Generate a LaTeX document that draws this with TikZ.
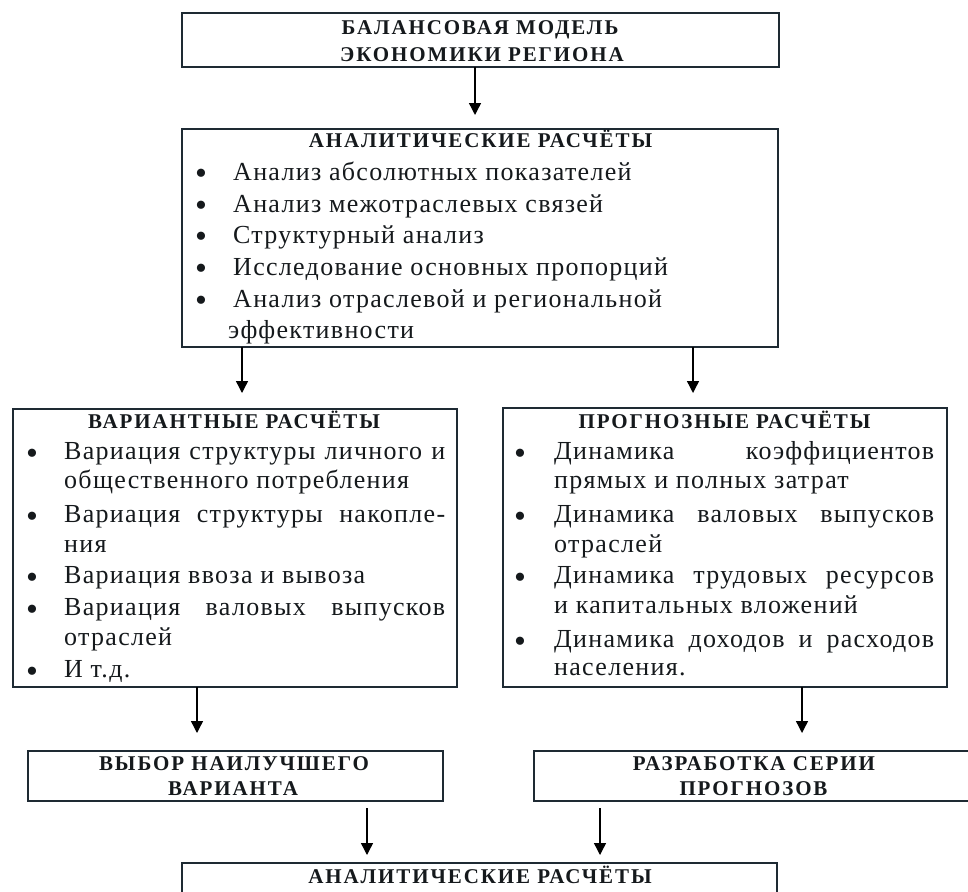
\documentclass[tikz,border=0pt]{standalone}
\usepackage{fontspec}
\setmainfont{Liberation Serif}
\newfontfamily\bodyf{Liberation Serif}[LetterSpace=5]
\newfontfamily\titf{Liberation Serif}[LetterSpace=9]
\usetikzlibrary{arrows.meta}
\definecolor{boxc}{HTML}{1E2A33}
\definecolor{txtc}{HTML}{15191C}
\tikzset{
  box/.style={draw=boxc, line width=1.5pt, inner sep=0pt, outer sep=0pt},
  arr/.style={draw=black, line width=1.4pt, -{Triangle[width=12pt,length=12pt]}},
  ln/.style={inner sep=0pt, anchor=base west, text=txtc, font=\bodyf\fontsize{26}{31}\selectfont},
  hd/.style={inner sep=0pt, anchor=base, text=txtc, font=\titf\bfseries\fontsize{21}{25}\selectfont},
  bul/.style={inner sep=0pt, anchor=center, yshift=-4.5pt, text=txtc, font=\fontsize{34}{38}\selectfont},
}
\newcommand{\jl}[2]{\makebox[#1][s]{#2}}
\begin{document}
\begin{tikzpicture}[x=1pt,y=-1pt]
\clip (0,0) rectangle (968,891);
\fill[white] (0,0) rectangle (968,891);
% boxes
\node[box, minimum width=597pt, minimum height=54pt] (top) at (480.5,40) {};
\node[box, minimum width=596pt, minimum height=218pt] (an) at (480,238) {};
\node[box, minimum width=444pt, minimum height=278pt] (var) at (235,548) {};
\node[box, minimum width=444pt, minimum height=279pt] (prog) at (725,547.5) {};
\node[box, minimum width=415pt, minimum height=50pt] (best) at (235.5,776) {};
\node[box, minimum width=441pt, minimum height=50pt] (ser) at (754.5,776) {};
\node[box, minimum width=595pt, minimum height=77pt] (fin) at (479.5,901.5) {};
% arrow x positions
\coordinate (a1) at (475,0);
\coordinate (a2) at (242,0);
\coordinate (a3) at (693,0);
\coordinate (a4) at (197,0);
\coordinate (a5) at (802,0);
\coordinate (a6) at (367,0);
\coordinate (a7) at (600,0);
\draw[arr, shorten >=14pt] (top.south -| a1) -- (an.north -| a1);
\draw[arr, shorten >=16pt] (an.south -| a2) -- (var.north -| a2);
\draw[arr, shorten >=15pt] (an.south -| a3) -- (prog.north -| a3);
\draw[arr, shorten >=18pt] (var.south -| a4) -- (best.north -| a4);
\draw[arr, shorten >=18pt] (prog.south -| a5) -- (ser.north -| a5);
\draw[arr, shorten <=7pt, shorten >=8pt] (best.south -| a6) -- (fin.north -| a6);
\draw[arr, shorten <=7pt, shorten >=8pt] (ser.south -| a7) -- (fin.north -| a7);
% top
\node[hd] (t1) at (480,35) {БАЛАНСОВАЯ МОДЕЛЬ};
\node[hd] (t2) at (482,61) {ЭКОНОМИКИ РЕГИОНА};
% analytic
\node[hd] (ah) at (480.5,147) {АНАЛИТИЧЕСКИЕ РАСЧЁТЫ};
\node[bul] (ab1) at (201,172) {•};
\node[bul] (ab2) at (201,204) {•};
\node[bul] (ab3) at (201,235) {•};
\node[bul] (ab4) at (201,267) {•};
\node[bul] (ab5) at (201,299) {•};
\node[ln] (al1) at (233,180) {Анализ абсолютных показателей};
\node[ln] (al2) at (233,212) {Анализ межотраслевых связей};
\node[ln] (al3) at (233,243) {Структурный анализ};
\node[ln] (al4) at (233,275) {Исследование основных пропорций};
\node[ln] (al5) at (233,307) {Анализ отраслевой и региональной};
\node[ln] (al6) at (228,338) {эффективности};
% variant
\node[hd] (vh) at (234,428) {ВАРИАНТНЫЕ РАСЧЁТЫ};
\node[bul] (vb1) at (32,452) {•};
\node[bul] (vb2) at (32,515) {•};
\node[bul] (vb3) at (32,576) {•};
\node[bul] (vb4) at (32,608) {•};
\node[bul] (vb5) at (32,670) {•};
\node[ln] (vl1) at (64,459) {\jl{381pt}{Вариация структуры личного и}};
\node[ln] (vl2) at (64,488) {общественного потребления};
\node[ln] (vl3) at (64,522) {\jl{381pt}{Вариация структуры накопле-}};
\node[ln] (vl4) at (64,552) {ния};
\node[ln] (vl5) at (64,583) {Вариация ввоза и вывоза};
\node[ln] (vl6) at (64,615) {\jl{381pt}{Вариация валовых выпусков}};
\node[ln] (vl7) at (64,645) {отраслей};
\node[ln] (vl8) at (64,677) {И т.д.};
% forecast
\node[hd] (ph) at (724.5,428) {ПРОГНОЗНЫЕ РАСЧЁТЫ};
\node[bul] (pb1) at (520,452) {•};
\node[bul] (pb2) at (520,515) {•};
\node[bul] (pb3) at (520,576) {•};
\node[bul] (pb4) at (520,640) {•};
\node[ln] (pl1) at (554,459) {\jl{380pt}{Динамика коэффициентов}};
\node[ln] (pl2) at (554,488) {прямых и полных затрат};
\node[ln] (pl3) at (554,522) {\jl{380pt}{Динамика валовых выпусков}};
\node[ln] (pl4) at (554,552) {отраслей};
\node[ln] (pl5) at (554,583) {\jl{380pt}{Динамика трудовых ресурсов}};
\node[ln] (pl6) at (554,613) {и капитальных вложений};
\node[ln] (pl7) at (554,647) {\jl{380pt}{Динамика доходов и расходов}};
\node[ln] (pl8) at (554,675) {населения.};
% bottom row
\node[hd] (bh1) at (234,770) {ВЫБОР НАИЛУЧШЕГО};
\node[hd] (bh2) at (233,795) {ВАРИАНТА};
\node[hd] (sh1) at (754,770) {РАЗРАБОТКА СЕРИИ};
\node[hd] (sh2) at (753.5,795) {ПРОГНОЗОВ};
\node[hd] (fh) at (480,883) {АНАЛИТИЧЕСКИЕ РАСЧЁТЫ};
\end{tikzpicture}
\end{document}
